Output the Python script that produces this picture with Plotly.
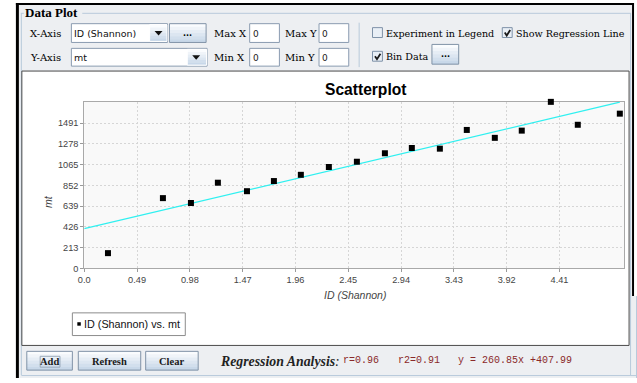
import plotly.graph_objects as go

# ---- data ----
shannon_id = [0.22, 0.73, 0.99, 1.24, 1.51, 1.76, 2.01, 2.27, 2.53, 2.79,
              3.04, 3.30, 3.55, 3.81, 4.06, 4.33, 4.58, 4.97]
mt = [157, 721, 671, 879, 792, 896, 960, 1040, 1094, 1181,
      1235, 1228, 1420, 1339, 1413, 1708, 1473, 1587]

x_tick_vals = [0.0, 0.49, 0.98, 1.47, 1.96, 2.45, 2.94, 3.43, 3.92, 4.41]
x_tick_text = ["0.0", "0.49", "0.98", "1.47", "1.96", "2.45", "2.94", "3.43", "3.92", "4.41"]
y_tick_vals = [0, 213, 426, 639, 852, 1065, 1278, 1491]

reg_slope = 260.85
reg_intercept = 407.99
reg_r = 0.96
reg_r2 = 0.91

W, H = 637, 383


def X(p):
    return p / W


def Y(p):
    return 1 - p / H


shapes = []
annotations = []


def box(x0, y0, x1, y1, fill=None, line=None, lw=1):
    shapes.append(dict(
        type="rect", xref="paper", yref="paper", layer="below",
        x0=X(x0), x1=X(x1), y0=Y(y1), y1=Y(y0),
        fillcolor=fill or "rgba(0,0,0,0)",
        line=dict(color=line or "rgba(0,0,0,0)", width=lw if line else 0),
    ))


def seg(x0, y0, x1, y1, color, lw=1, dash=None):
    shapes.append(dict(
        type="line", xref="paper", yref="paper", layer="below",
        x0=X(x0), x1=X(x1), y0=Y(y0), y1=Y(y1),
        line=dict(color=color, width=lw, dash=dash),
    ))


def poly(points, fill=None, line=None, lw=1, closed=True):
    d = "M " + " L ".join(f"{X(a):.5f},{Y(b):.5f}" for a, b in points)
    if closed:
        d += " Z"
    shapes.append(dict(
        type="path", xref="paper", yref="paper", layer="below", path=d,
        fillcolor=fill or "rgba(0,0,0,0)",
        line=dict(color=line or "rgba(0,0,0,0)", width=lw if line else 0),
    ))


def text(x, y, s, size, color="#000000", family="DejaVu Serif", anchor="left"):
    annotations.append(dict(
        x=X(x), y=Y(y), xref="paper", yref="paper", text=s, showarrow=False,
        xanchor=anchor, yanchor="middle", borderpad=0, borderwidth=0,
        font=dict(size=size, color=color, family=family),
    ))


def gradient_button(x0, y0, x1, y1, border="#8193a7"):
    top = (250, 252, 254)
    bottom = (200, 216, 233)
    n = 6
    h = (y1 - y0) / n
    for i in range(n):
        t = i / (n - 1)
        c = tuple(int(top[k] + (bottom[k] - top[k]) * t) for k in range(3))
        box(x0, y0 + i * h, x1, y0 + (i + 1) * h + 0.3, fill="rgb(%d,%d,%d)" % c)
    box(x0, y0, x1, y1, line=border, lw=1)


def checkbox(x0, y0, checked):
    box(x0, y0, x0 + 10, y0 + 10, fill="#e9eff6", line="#7f92a8", lw=1)
    if checked:
        poly([(x0 + 2.5, y0 + 5), (x0 + 4.5, y0 + 8), (x0 + 8, y0 + 2.5)],
             line="#1a1a1a", lw=1.8, closed=False)


def arrow_down(cx, cy):
    poly([(cx - 4, cy - 2), (cx + 4, cy - 2), (cx, cy + 2.5)], fill="#111111")


PANEL = "#edeff2"
TITLED = "#b8cadb"
FIELD = "#8a9bb0"

# ---- window frame and panel ----
box(10, 3, 634, 383, fill=PANEL)
box(630, 300, 637, 383, fill=PANEL)
box(10, 3, 634, 5, fill="#000000")
box(10, 3, 13, 383, fill="#000000")
box(632, 3, 634, 300, fill="#000000")
seg(636.5, 300, 636.5, 383, TITLED)

# titled border "Data Plot"
seg(15, 13.5, 18, 13.5, TITLED)
seg(77, 13.5, 631, 13.5, TITLED)
seg(15.5, 13.5, 15.5, 380, TITLED)
seg(630.5, 13.5, 630.5, 380, TITLED)
seg(15.5, 380.5, 636.5, 380.5, TITLED)
text(19, 13, "<b>Data Plot</b>", 13, family="Liberation Serif")

# ---- top controls ----
text(24, 33.5, "X-Axis", 10)
text(24, 58, "Y-Axis", 10)

box(66, 24, 163, 43, fill="#ffffff", line=FIELD)
gradient_button(145, 25, 162.5, 42, border="#ffffff")
arrow_down(154, 33.5)
text(69, 34, "ID (Shannon)", 9.5, color="#111111", family="DejaVu Sans")

gradient_button(165, 24, 202, 43)
text(183.5, 33.5, "<b>...</b>", 8, family="DejaVu Sans", anchor="center")

box(66, 49, 203, 67, fill="#ffffff", line=FIELD)
gradient_button(183, 50, 202.5, 66, border="#ffffff")
arrow_down(192, 58)
text(69, 58.5, "mt", 9.5, color="#111111", family="DejaVu Sans")

for lbl, lx, tx, ty in [("Max X", 210, 246, 24), ("Max Y", 282, 316, 24),
                        ("Min X", 210, 246, 49), ("Min Y", 282, 316, 49)]:
    text(lx, ty + 9.5, lbl, 10)
    box(tx, ty, tx + 30, ty + 19 if ty == 24 else ty + 18, fill="#ffffff", line=FIELD)
    text(tx + 3, ty + 10, "0", 9, color="#222222", family="DejaVu Sans")

seg(356.5, 23, 356.5, 68, TITLED)

checkbox(370, 28, False)
text(384, 33.5, "Experiment in Legend", 9.6)
checkbox(501, 28, True)
text(515, 33.5, "Show Regression Line", 9.6)
checkbox(370, 52, True)
text(384, 57.5, "Bin Data", 9.6)
gradient_button(430, 45, 457, 65)
text(443.5, 55, "<b>...</b>", 8, family="DejaVu Sans", anchor="center")

# ---- chart panel ----
box(16, 72, 629, 350, fill="#ffffff", line="#4a4a4a", lw=1)
box(79, 103, 624, 272, fill="#f9f9f9")

text(322.5, 91, "<b>Scatterplot</b>", 15.6, family="Liberation Sans")
text(352, 298.5, "<i>ID (Shannon)</i>", 10.5, color="#444444", family="Liberation Sans", anchor="center")
annotations.append(dict(
    x=X(43), y=Y(204), xref="paper", yref="paper", text="<i>mt</i>", showarrow=False,
    textangle=-90, xanchor="center", yanchor="middle", borderpad=0,
    font=dict(size=10.5, color="#444444", family="Liberation Sans"),
))

# legend box
box(67, 317, 181, 340, fill="#ffffff", line="#8c8c8c")
box(72, 326.5, 75.5, 330, fill="#000000")
text(78.5, 328.5, "ID (Shannon) vs. mt", 10.8, color="#111111", family="Liberation Sans")

# ---- bottom buttons and regression summary ----
for lbl, bx0, bx1 in [("Add", 21, 67), ("Refresh", 73, 136), ("Clear", 141, 194)]:
    gradient_button(bx0, 356, bx1, 375)
    text((bx0 + bx1) / 2, 366, f"<b>{lbl}</b>", 10.5, color="#1a1a1a",
         family="Liberation Serif", anchor="center")
box(34.5, 361, 54.5, 372, line="#9aaabb", lw=1)

text(216, 366, "<b><i>Regression Analysis</i></b><i>:</i>", 13.8, color="#222222",
     family="Liberation Serif")
RED = "#8b2a2a"
text(340, 365.5, f"r={reg_r:.2f}", 10, color=RED, family="Liberation Mono")
text(396, 365.5, f"r2={reg_r2:.2f}", 10, color=RED, family="Liberation Mono")
text(456.5, 365.5, f"y = {reg_slope:.2f}x +{reg_intercept:.2f}", 10, color=RED,
     family="Liberation Mono")

# ---- traces ----
x_end = max(shannon_id)
fig = go.Figure()
fig.add_trace(go.Scatter(
    x=[0, x_end], y=[reg_intercept, reg_slope * x_end + reg_intercept],
    mode="lines", line=dict(color="#30f0f0", width=1.3),
    hoverinfo="skip", showlegend=False,
))
fig.add_trace(go.Scatter(
    x=shannon_id, y=mt, mode="markers", name="ID (Shannon) vs. mt",
    marker=dict(symbol="square", size=6, color="#000000", line=dict(width=0)),
    cliponaxis=False, showlegend=False,
))

axis_common = dict(
    showgrid=True, gridcolor="#d6d6d6", gridwidth=1, griddash="2px,2px",
    showline=True, linecolor="#a9a9a9", linewidth=1, mirror=True,
    ticks="outside", ticklen=3, tickcolor="#9a9a9a",
    tickfont=dict(family="Liberation Sans", size=9.2, color="#444444"),
    zeroline=False, fixedrange=True, layer="below traces",
)

fig.update_layout(
    width=W, height=H,
    margin=dict(l=0, r=0, t=0, b=0),
    paper_bgcolor="#ffffff",
    plot_bgcolor="rgba(0,0,0,0)",
    showlegend=False,
    xaxis=dict(domain=[X(79), X(624)], range=[0, 5.01],
               tickvals=x_tick_vals, ticktext=x_tick_text, **axis_common),
    yaxis=dict(domain=[Y(272), Y(103)], range=[0, 1710],
               tickvals=y_tick_vals, **axis_common),
    shapes=shapes,
    annotations=annotations,
)

fig.write_html("out.html")
